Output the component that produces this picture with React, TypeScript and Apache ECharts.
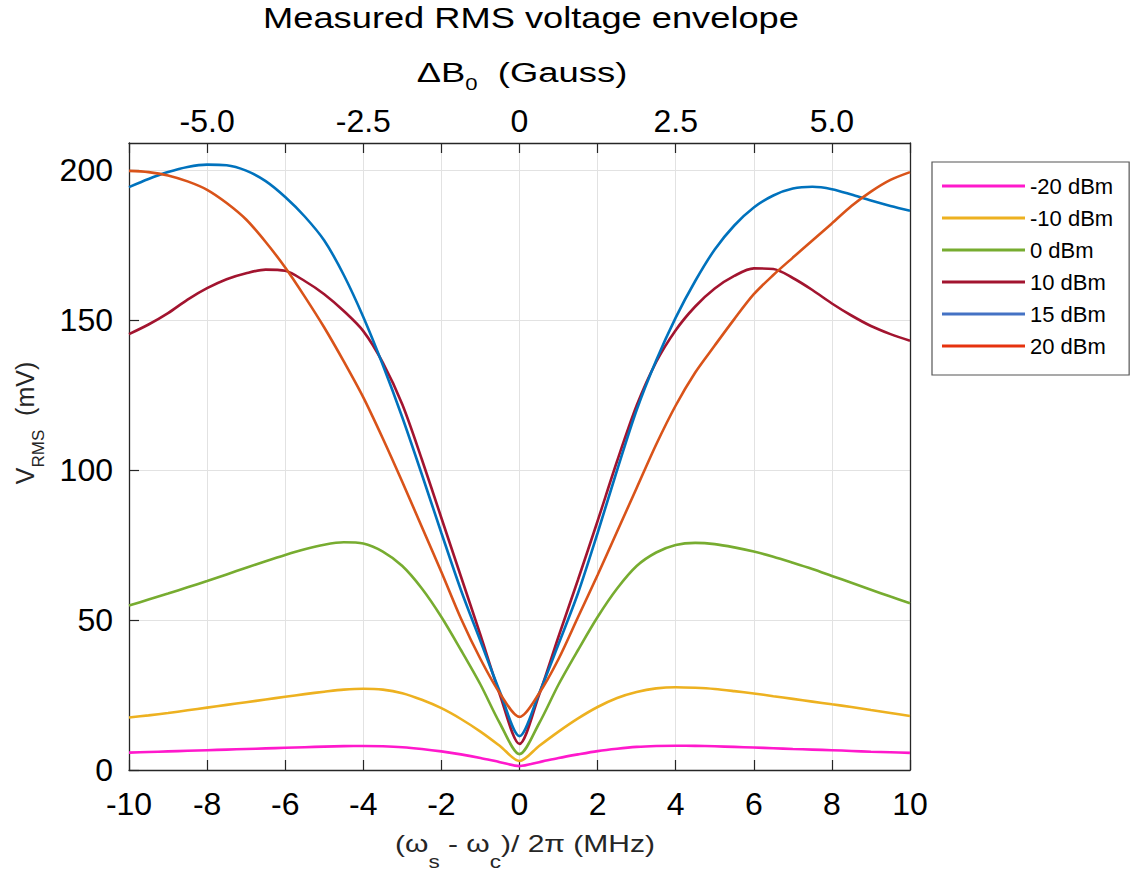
import React, { useEffect, useRef } from "react";
import * as echarts from "echarts";

// Detuning (MHz)
const freqMHz = [
  -10, -9.5, -9, -8.5, -8, -7.5, -7, -6.5, -6, -5.5, -5, -4.5, -4, -3.5, -3, -2.5, -2, -1.5, -1, -0.5,
  0, 0.5, 1, 1.5, 2, 2.5, 3, 3.5, 4, 4.5, 5, 5.5, 6, 6.5, 7, 7.5, 8, 8.5, 9, 9.5, 10,
];

// Measured RMS voltage (mV) per drive power
const vMinus20 = [
  5.8, 6.0, 6.2, 6.4, 6.6, 6.8, 7.0, 7.2, 7.4, 7.6, 7.8, 7.95, 8.0, 7.9, 7.6, 7.0, 6.2, 5.2, 4.0, 2.6,
  1.3, 2.6, 4.0, 5.2, 6.3, 7.1, 7.7, 8.0, 8.1, 8.05, 7.9, 7.7, 7.5, 7.25, 7.0, 6.8, 6.6, 6.35, 6.1, 5.9, 5.7,
];
const vMinus10 = [
  17.5, 18.2, 19.0, 19.9, 20.8, 21.7, 22.6, 23.5, 24.4, 25.3, 26.1, 26.8, 27.1, 26.8, 25.6, 23.4, 20.6, 17.0, 12.8, 8.0,
  3.0, 8.0, 12.8, 17.2, 21.0, 24.0, 26.0, 27.2, 27.6, 27.4, 27.0, 26.3, 25.5, 24.6, 23.7, 22.8, 21.9, 21.0, 20.0, 19.0, 18.0,
];
const v0 = [
  54.8, 56.8, 58.8, 60.9, 63.0, 65.2, 67.4, 69.6, 71.7, 73.6, 75.1, 75.9, 75.5, 72.8, 68.0, 60.5, 51.0, 40.0, 28.5, 15.5,
  5.3, 15.5, 28.5, 40.0, 51.0, 60.5, 68.0, 72.5, 75.0, 75.7, 75.3, 74.2, 72.8, 71.1, 69.1, 67.0, 64.7, 62.4, 60.1, 57.8, 55.6,
];
const v10 = [
  145.3, 148.5, 152.3, 156.8, 160.6, 163.6, 165.6, 166.8, 166.4, 163.0, 158.6, 153.0, 146.3, 135.8, 121.8, 103.5, 84.0, 64.5, 45.0, 25.0,
  8.7, 25.0, 44.5, 63.5, 83.0, 103.0, 121.5, 136.0, 146.6, 154.5, 160.5, 164.7, 167.2, 167.0, 164.0, 160.0, 155.5, 151.5, 148.0, 145.3, 143.1,
];
const v15 = [
  194.3, 197.0, 199.3, 201.0, 201.8, 201.6, 199.8, 196.3, 191.0, 184.5, 176.5, 165.0, 151.0, 135.0, 117.5, 98.5, 79.0, 60.0, 43.0, 26.0,
  11.3, 25.5, 42.0, 59.0, 79.0, 100.0, 120.0, 136.5, 150.8, 163.0, 173.5, 181.5, 187.5, 191.5, 193.8, 194.4, 193.6, 191.8, 189.8, 188.0, 186.4,
];
const v20 = [
  199.7, 199.3, 198.2, 196.2, 193.4, 189.0, 183.5, 176.0, 167.5, 157.8, 147.5, 136.2, 124.2, 110.5, 96.0, 81.0, 66.0, 50.5, 37.0, 25.5,
  17.7, 25.5, 37.0, 51.0, 65.0, 79.5, 94.0, 108.5, 121.5, 132.5, 141.5, 150.3, 158.6, 165.0, 170.8, 176.5, 182.2, 188.0, 192.8, 196.7, 199.3,
];

const seriesNames = ["-20 dBm", "-10 dBm", "0 dBm", "10 dBm", "15 dBm", "20 dBm"];
const seriesValues = [vMinus20, vMinus10, v0, v10, v15, v20];
const lineColors = ["#FF19CC", "#EDB120", "#77AC30", "#A2142F", "#0072BD", "#D95319"];
const legendColors = ["#FF19CC", "#EDB120", "#77AC30", "#A2142F", "#4472C4", "#E6320E"];

// Top axis: magnetic field offset labels at detuning positions
const topTickMHz = [-8, -4, 0, 4, 8];
const topTickLabels = ["-5.0", "-2.5", "0", "2.5", "5.0"];

const FONT = "'Liberation Sans', Arial, Helvetica, sans-serif";
const AX = "#262626";

export default function App() {
  const ref = useRef<HTMLDivElement>(null);

  useEffect(() => {
    if (!ref.current) return;
    const chart = echarts.init(ref.current, null, { renderer: "svg" });

    const series = seriesNames.map((name, i) => ({
      name,
      type: "line",
      xAxisIndex: 0,
      yAxisIndex: 0,
      data: freqMHz.map((f, j) => [f, seriesValues[i][j]]),
      smooth: 0.3,
      showSymbol: false,
      symbol: "none",
      lineStyle: { color: lineColors[i], width: 2.6 },
      itemStyle: { color: lineColors[i] },
    }));

    const option: any = {
      animation: false,
      backgroundColor: "#ffffff",
      textStyle: { fontFamily: FONT },
      grid: { left: 129, right: 223, top: 143, bottom: 105, containLabel: false },
      legend: {
        orient: "vertical",
        left: 932,
        top: 162,
        icon: "rect",
        itemWidth: 83,
        itemHeight: 3,
        itemGap: 10,
        padding: [13, 16, 18, 10],
        backgroundColor: "#ffffff",
        borderColor: "#555555",
        borderWidth: 1.2,
        textStyle: { fontSize: 22, color: "#000000", fontFamily: FONT },
        data: seriesNames.map((n, i) => ({ name: n, itemStyle: { color: legendColors[i] } })),
      },
      xAxis: [
        {
          type: "value",
          position: "bottom",
          min: -10,
          max: 10,
          interval: 2,
          axisLine: { show: true, onZero: false, lineStyle: { color: AX, width: 1.3 } },
          axisTick: { show: true, inside: true, length: 10, lineStyle: { color: AX, width: 1.2 } },
          axisLabel: { show: true, fontSize: 32, color: "#000000", margin: 18, showMinLabel: true, showMaxLabel: true, hideOverlap: false, fontFamily: FONT },
          splitLine: { show: true, lineStyle: { color: "#e2e2e2", width: 1 } },
        },
        {
          type: "value",
          position: "top",
          min: -10,
          max: 10,
          interval: 2,
          axisLine: { show: true, onZero: false, lineStyle: { color: AX, width: 1.3 } },
          axisTick: { show: true, inside: true, length: 10, lineStyle: { color: AX, width: 1.2 } },
          axisLabel: {
            show: true,
            fontSize: 32,
            color: "#000000",
            margin: 6,
            showMinLabel: true,
            showMaxLabel: true,
            hideOverlap: false,
            fontFamily: FONT,
            formatter: (v: number) => {
              const idx = topTickMHz.indexOf(Math.round(v * 1000) / 1000);
              return idx >= 0 ? topTickLabels[idx] : "";
            },
          },
          splitLine: { show: false },
        },
      ],
      yAxis: [
        {
          type: "value",
          position: "left",
          min: 0,
          max: 209,
          interval: 50,
          axisLine: { show: true, onZero: false, lineStyle: { color: AX, width: 1.3 } },
          axisTick: { show: true, inside: true, length: 10, lineStyle: { color: AX, width: 1.2 } },
          axisLabel: { show: true, fontSize: 32, color: "#000000", margin: 16, showMaxLabel: false, fontFamily: FONT },
          splitLine: { show: true, lineStyle: { color: "#e2e2e2", width: 1 } },
        },
        {
          type: "value",
          position: "right",
          min: 0,
          max: 209,
          interval: 50,
          axisLine: { show: true, onZero: false, lineStyle: { color: AX, width: 1.3 } },
          axisTick: { show: false },
          axisLabel: { show: false },
          splitLine: { show: false },
        },
      ],
      series,
      graphic: [
        {
          type: "text",
          x: 531,
          y: 18,
          scaleX: 1.25,
          style: {
            text: "Measured RMS voltage envelope",
            fontSize: 29,
            fontFamily: FONT,
            fill: "#000000",
            align: "center",
            verticalAlign: "middle",
          },
        },
        {
          type: "text",
          x: 522,
          y: 73,
          scaleX: 1.3,
          style: {
            text: "ΔB{sub|0}  (Gauss)",
            fontSize: 28,
            lineHeight: 28,
            fontFamily: FONT,
            fill: "#000000",
            align: "center",
            verticalAlign: "middle",
            rich: { sub: { fontSize: 17, lineHeight: 28, padding: [22, 0, 0, 0], fontFamily: FONT, fill: "#000000" } },
          },
        },
        {
          type: "text",
          x: 525,
          y: 844,
          scaleX: 1.25,
          style: {
            text: "(ω{sub|s} - ω{sub|c})/ 2π (MHz)",
            fontSize: 24,
            lineHeight: 24,
            fontFamily: FONT,
            fill: AX,
            align: "center",
            verticalAlign: "middle",
            rich: { sub: { fontSize: 18, lineHeight: 24, padding: [36, 0, 0, 0], fontFamily: FONT, fill: AX } },
          },
        },
        {
          type: "text",
          x: 25,
          y: 423,
          rotation: Math.PI / 2,
          style: {
            text: "V{sub|RMS}  (mV)",
            fontSize: 25,
            lineHeight: 25,
            fontFamily: FONT,
            fill: AX,
            align: "center",
            verticalAlign: "middle",
            rich: { sub: { fontSize: 17, lineHeight: 25, padding: [26, 0, 0, 0], fontFamily: FONT, fill: AX } },
          },
        },
      ],
    };

    chart.setOption(option);
    return () => chart.dispose();
  }, []);

  return (
    <div
      ref={ref}
      style={{ position: "fixed", left: 0, top: 0, width: 1133, height: 875, background: "#ffffff" }}
    />
  );
}
